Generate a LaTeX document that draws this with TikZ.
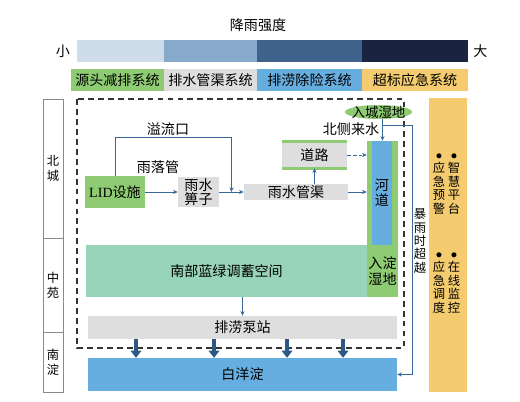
\documentclass[tikz,border=0pt]{standalone}
\usepackage{fontspec}
\setmainfont{Liberation Serif}
\newfontfamily\cjk{Noto Sans CJK SC}
\usepackage{tikz}
\usetikzlibrary{calc, positioning, arrows.meta, shapes.geometric}

\definecolor{rainA}{HTML}{CFDCEA}
\definecolor{rainB}{HTML}{87A9CB}
\definecolor{rainC}{HTML}{3F638D}
\definecolor{rainD}{HTML}{1A2340}
\definecolor{srcgreen}{HTML}{8FCB72}
\definecolor{pipegray}{HTML}{DEDEDE}
\definecolor{drainblue}{HTML}{67AEE0}
\definecolor{emgyellow}{HTML}{F4CB6E}
\definecolor{basinteal}{HTML}{98D4B8}
\definecolor{flowblue}{HTML}{3A6896}
\definecolor{pumpblue}{HTML}{2D5884}
\definecolor{zoneline}{HTML}{8A8A8A}

\begin{document}
\begin{tikzpicture}[
    x=0.03cm, y=-0.03cm,
    font=\cjk\fontsize{12}{13}\selectfont,
    blk/.style={
        rectangle,
        inner sep=0pt,
        align=center
    },
    wh/.style 2 args={
        minimum width=#1*0.03cm,
        minimum height=#2*0.03cm
    },
    graybox/.style={blk, fill=pipegray},
    greenbox/.style={blk, fill=srcgreen},
    zone/.style={
        blk,
        draw=zoneline,
        fill=white,
        line width=0.8pt,
        font=\cjk\fontsize{10.5}{13}\selectfont
    },
    vtext/.style={
        inner sep=0pt,
        align=center,
        font=\cjk\fontsize{10.5}{11.5}\selectfont
    },
    arrow/.style={
        -{Stealth[length=4pt, width=3.5pt]},
        line width=0.8pt,
        draw=flowblue
    },
    fat/.style={
        -{Triangle[length=6pt, width=9pt]},
        line width=3pt,
        draw=pumpblue
    }
]

\useasboundingbox (0,0) rectangle (520,402);

\node (title) at (258,25) {降雨强度};
\foreach \c/\cx/\w [count=\i] in {rainA/120.5/87, rainB/210.5/93, rainC/309.5/105, rainD/415/106} {
    \node[blk, fill=\c, wh={\w}{22}] (rain\i) at (\cx,51) {};
}
\node[left=0.2cm of rain1, inner sep=0pt] (small) {小};
\node[right=0.15cm of rain4, inner sep=0pt] (large) {大};

\foreach \c/\cx/\w/\t [count=\i] in {srcgreen/117.5/93/源头减排系统, pipegray/210.5/93/排水管渠系统, drainblue/309.5/105/排涝除险系统, emgyellow/415/106/超标应急系统} {
    \node[blk, fill=\c, wh={\w}{22}] (sys\i) at (\cx,80) {\t};
}

\foreach \t/\cy/\h [count=\i] in {北\\城/168.5/139, 中\\苑/285/94, 南\\淀/362/60} {
    \node[zone, wh={20}{\h}] (zone\i) at (53,\cy) {\t};
}

\draw[dash pattern=on 5pt off 3.5pt, line width=1.2pt, draw=black!80] (77,99) rectangle (404,348);

\node[greenbox, wh={60}{32}] (lid) at (115,192) {{\rmfamily LID}设施};
\node[graybox, wh={41}{30}, font=\cjk\fontsize{12}{12.5}\selectfont] (grate) at (198.5,192) {雨水\\箅子};
\node[graybox, wh={104}{16}] (pipe) at (296,192) {雨水管渠};
\node[graybox, wh={65}{26}] (road) at (314.5,155) {道路};
\draw[srcgreen, line width=2.5pt] (road.north west) -- (road.north east);
\draw[srcgreen, line width=2.5pt] (road.south west) -- (road.south east);

\node[greenbox, wh={31}{104}] (rivg) at (382.5,193) {};
\node[blk, fill=drainblue, wh={20}{104}] (river) at (382,193) {河\\道};
\node[greenbox, wh={31}{52}] (inlet) at (382.5,271) {入淀\\湿地};
\node[blk, fill=basinteal, wh={281}{52}] (basin) at (226.5,271) {南部蓝绿调蓄空间};
\node[graybox, wh={309}{23}] (pump) at (242.5,327.5) {排涝泵站};
\node[blk, fill=drainblue, wh={309}{33}] (lake) at (242.5,374.5) {白洋淀};

\node[ellipse, fill=srcgreen, inner sep=0pt, wh={67}{14},
    label={[font=\cjk\fontsize{11.5}{12}\selectfont]center:入城湿地}] (wet) at (378.5,112) {};

\node (overflow) at (168,129) {溢流口};
\node (downpipe) at (158,167) {雨落管};
\node (northin) at (351,129) {北侧来水};
\node[vtext] (storm) at (420,241) {暴\\雨\\时\\超\\越};

\node[blk, fill=emgyellow, wh={38}{294}] (emg) at (448,245) {};
\node[vtext] (plat) at (454,184) {$\bullet$\\智\\慧\\平\\台};
\node[vtext] (warn) at (439,184) {$\bullet$\\应\\急\\预\\警};
\node[vtext] (monit) at (454,283) {$\bullet$\\在\\线\\监\\控};
\node[vtext] (disp) at (439,283) {$\bullet$\\应\\急\\调\\度};

\coordinate (join) at ($(grate.east)!0.5!(pipe.west)$);
\draw[arrow] (lid) -- (grate);
\draw[arrow] (grate) -- (pipe);
\draw[arrow] (lid.north) -- ++(0,-38) -| (join);
\draw[arrow] (road.south |- pipe.north) -- (road.south);
\draw[arrow, dash pattern=on 3pt off 2pt] (road.east) -- (road.east -| rivg.west);
\draw[arrow] (pipe.east) -- (pipe.east -| rivg.west);
\draw[arrow] (wet.south -| rivg.north) -- (rivg.north);
\coordinate (split) at ($(wet.south -| rivg.north)+(0,6)$);
\draw[arrow] (split) -- ++(30,0) |- (lake.east);
\draw[arrow] (pump.north |- basin.south) -- (pump.north);
\foreach \px in {136,214,287,343} {
    \draw[fat] (\px,0 |- pump.south) -- (\px,0 |- lake.north);
}

\end{tikzpicture}
\end{document}
